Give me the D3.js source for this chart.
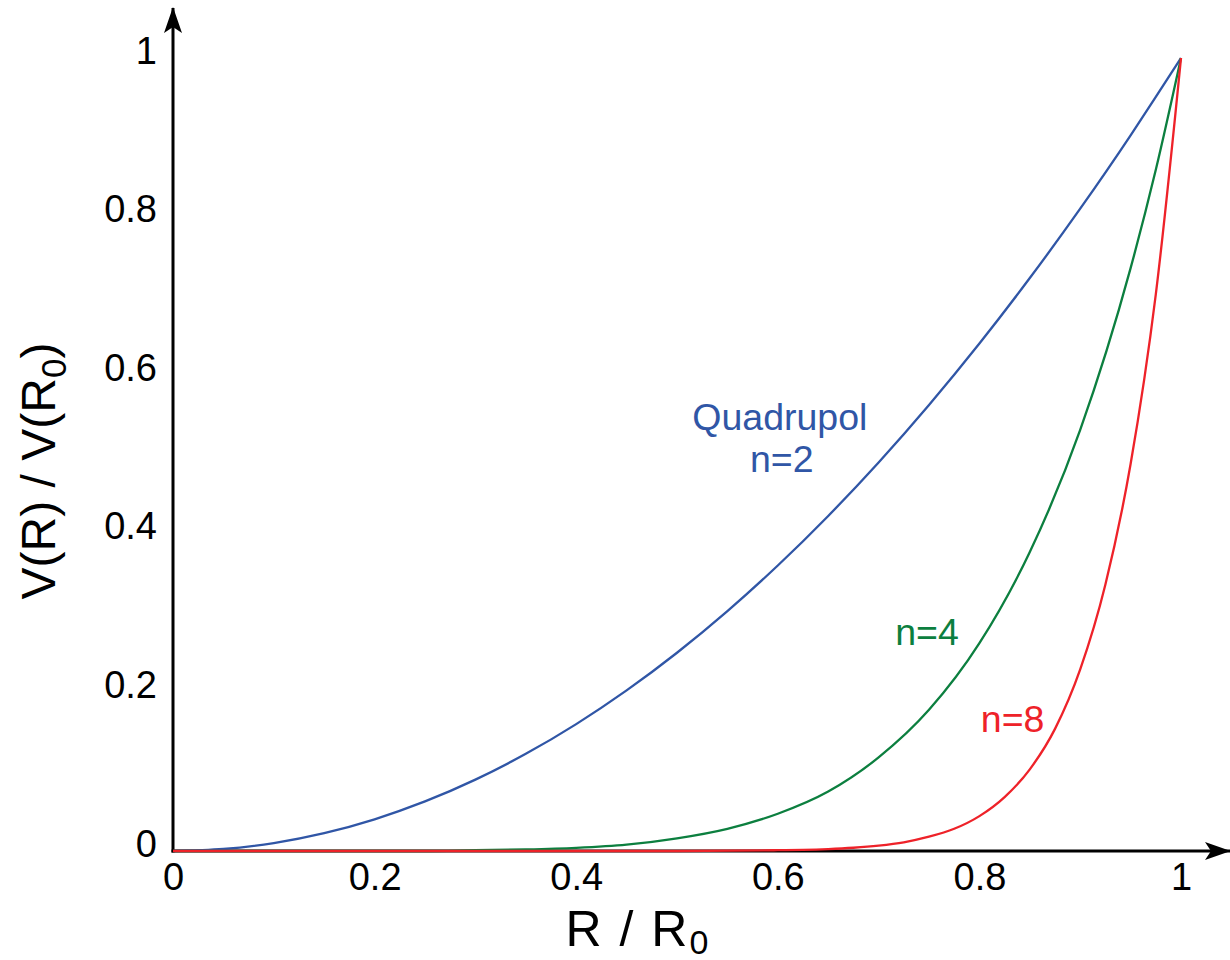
<!DOCTYPE html>
<html lang="en">
<head>
    <meta charset="UTF-8">
    <title>V(R) / V(R0)</title>
    <script src="https://d3js.org/d3.v7.min.js"></script>
    <style>
        html, body {
            margin: 0;
            padding: 0;
            background: white;
        }
        svg text {
            font-family: "Liberation Sans", Arial, Helvetica, sans-serif;
        }
    </style>
</head>
<body>
    <div class="content"></div>
    <script>
        // R / R0 sample points
        const radius = [0, 0.05, 0.1, 0.15, 0.2, 0.25, 0.3, 0.35, 0.4, 0.45, 0.5,
            0.55, 0.6, 0.65, 0.7, 0.75, 0.8, 0.85, 0.9, 0.95, 0.975, 1];
        // the red curve bends late, so it is read more finely near the end
        const radiusRed = [0, 0.1, 0.2, 0.3, 0.4, 0.5, 0.6, 0.625, 0.65, 0.675, 0.7,
            0.725, 0.75, 0.775, 0.8, 0.825, 0.85, 0.875, 0.9, 0.925, 0.95, 0.975, 1];

        // V(R) / V(R0) for each curve
        const quadrupol = [0, 0.0025, 0.010, 0.0225, 0.040, 0.0625, 0.090, 0.1225, 0.160, 0.2025, 0.250,
            0.3025, 0.360, 0.4225, 0.490, 0.5625, 0.640, 0.7225, 0.810, 0.9025, 0.951, 1];
        const n4 = [0, 0, 0, 0, 0, 0, 0.001, 0.002, 0.004, 0.008, 0.016,
            0.028, 0.047, 0.075, 0.118, 0.178, 0.262, 0.377, 0.531, 0.735, 0.859, 1];
        const n8 = [0, 0, 0, 0, 0, 0, 0.001, 0.0014, 0.0024, 0.0041, 0.0068,
            0.011, 0.018, 0.028, 0.044, 0.068, 0.103, 0.154, 0.229, 0.336, 0.488, 0.702, 1];

        const xTicks = [0, 0.2, 0.4, 0.6, 0.8, 1];
        const yTicks = [0, 0.2, 0.4, 0.6, 0.8, 1];

        const seriesColors = ["#3056a6", "#0c7f3f", "#ee2229"];

        // curve labels in data units
        const labelText = ["Quadrupol", "n=2", "n=4", "n=8"];
        const labelX = [0.602, 0.604, 0.748, 0.833];
        const labelY = [0.531, 0.478, 0.260, 0.150];
        const labelColor = ["#3056a6", "#3056a6", "#0c7f3f", "#ee2229"];

        const w = 1230;
        const h = 960;

        const x = d3.scaleLinear().domain([0, 1]).range([173, 1181]);
        const y = d3.scaleLinear().domain([0, 1]).range([851, 58]);

        const svg = d3.select(".content")
            .append("svg")
            .attr("width", w)
            .attr("height", h);

        // arrow heads
        const defs = svg.append("defs");
        defs.append("marker")
            .attr("id", "arrow")
            .attr("viewBox", "0 0 26 18")
            .attr("refX", 25)
            .attr("refY", 9)
            .attr("markerWidth", 26)
            .attr("markerHeight", 18)
            .attr("markerUnits", "userSpaceOnUse")
            .attr("orient", "auto")
            .append("path")
            .attr("d", "M0,0 L26,9 L0,18 L6,9 Z")
            .attr("fill", "black");

        // axis lines
        svg.append("line")
            .attr("x1", x(0) - 1.5).attr("y1", y(0))
            .attr("x2", 1230).attr("y2", y(0))
            .attr("stroke", "black")
            .attr("stroke-width", 3)
            .attr("marker-end", "url(#arrow)");

        svg.append("line")
            .attr("x1", x(0)).attr("y1", y(0) + 1.5)
            .attr("x2", x(0)).attr("y2", 8)
            .attr("stroke", "black")
            .attr("stroke-width", 3)
            .attr("marker-end", "url(#arrow)");

        // tick labels
        const xAxis = svg.append("g")
            .attr("transform", `translate(0,${y(0)})`)
            .call(d3.axisBottom(x).tickValues(xTicks).tickSize(0).tickPadding(12).tickFormat(d3.format("")));
        xAxis.select(".domain").remove();
        xAxis.selectAll("text")
            .attr("font-size", "38px")
            .attr("font-family", null)
            .attr("fill", "black");

        const yAxis = svg.append("g")
            .attr("transform", `translate(${x(0)},0)`)
            .call(d3.axisLeft(y).tickValues(yTicks).tickSize(0).tickPadding(16).tickFormat(d3.format("")));
        yAxis.select(".domain").remove();
        yAxis.selectAll("text")
            .attr("y", -7)
            .attr("font-size", "38px")
            .attr("font-family", null)
            .attr("fill", "black");

        // axis titles
        const xTitle = svg.append("text")
            .attr("x", 637)
            .attr("y", 946)
            .attr("text-anchor", "middle")
            .attr("font-size", "50px")
            .attr("word-spacing", "4px")
            .attr("fill", "black");
        xTitle.append("tspan").text("R / R");
        xTitle.append("tspan").attr("dx", 2).attr("dy", 8).attr("font-size", "34px").text("0");

        const yTitle = svg.append("text")
            .attr("transform", "translate(55,471) rotate(-90)")
            .attr("text-anchor", "middle")
            .attr("font-size", "48px")
            .attr("fill", "black");
        yTitle.append("tspan").text("V(R) / V(R");
        yTitle.append("tspan").attr("dy", 11).attr("font-size", "35px").text("0");
        yTitle.append("tspan").attr("dy", -11).text(")");

        // curves
        const allSeries = [
            { xs: radius, ys: quadrupol },
            { xs: radius, ys: n4 },
            { xs: radiusRed, ys: n8 }
        ];
        const line = d3.line()
            .x(d => x(d[0]))
            .y(d => y(d[1]))
            .curve(d3.curveMonotoneX);

        svg.selectAll("path.curve")
            .data(allSeries)
            .enter()
            .append("path")
            .attr("class", "curve")
            .attr("d", d => line(d.xs.map((r, i) => [r, d.ys[i]])))
            .attr("fill", "none")
            .attr("stroke", (d, i) => seriesColors[i])
            .attr("stroke-width", 2.3)
            .attr("stroke-linejoin", "round");

        // curve labels
        svg.selectAll("text.curve-label")
            .data(labelText)
            .enter()
            .append("text")
            .attr("class", "curve-label")
            .text(d => d)
            .attr("x", (d, i) => x(labelX[i]))
            .attr("y", (d, i) => y(labelY[i]))
            .attr("text-anchor", "middle")
            .attr("font-size", "37.5px")
            .attr("fill", (d, i) => labelColor[i]);
    </script>
</body>
</html>
